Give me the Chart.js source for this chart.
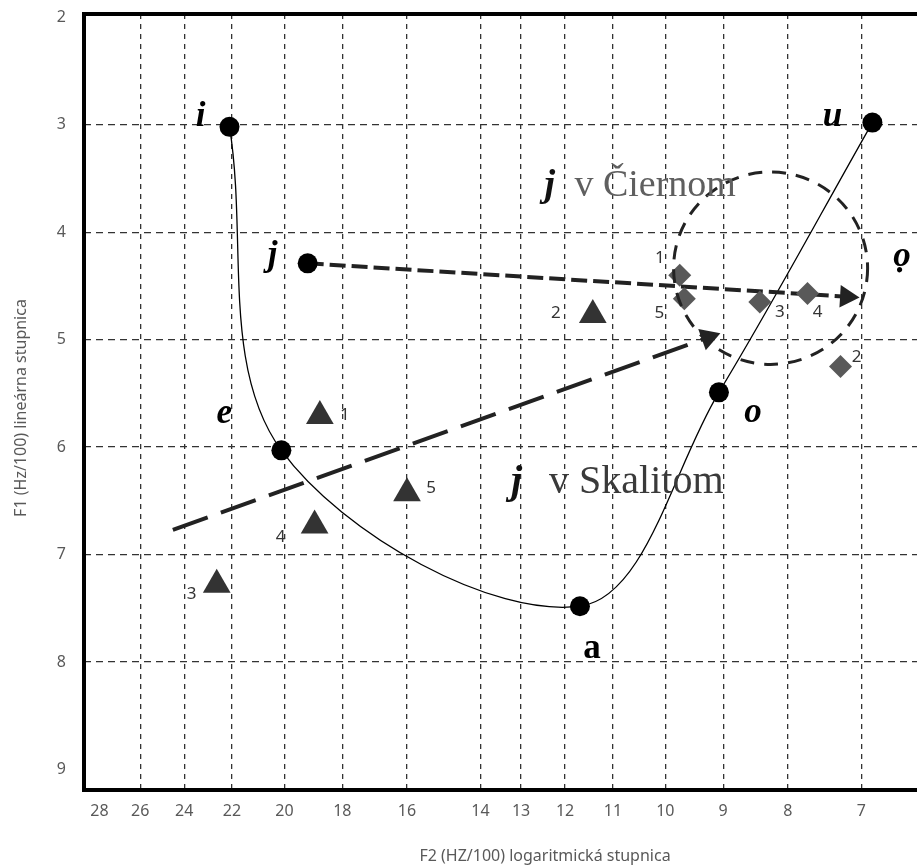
<!DOCTYPE html>
<html>
<head>
<meta charset="utf-8">
<script src="https://cdn.jsdelivr.net/npm/chart.js@4.4.1/dist/chart.umd.min.js"></script>
<style>
  html, body { margin: 0; padding: 0; background: #fff; overflow: hidden; }
</style>
</head>
<body>
<canvas id="formantChart" width="957" height="868"></canvas>
<script>
// axes: F2 (Hz/100, log) and F1 (Hz/100, linear)
const f2Ticks = [28, 26, 24, 22, 20, 18, 16, 14, 13, 12, 11, 10, 9, 8, 7, 6];
const f1Ticks = [2, 3, 4, 5, 6, 7, 8, 9];

// reference vowels (black dots)
const vowelNames = ['i', 'j', 'e', 'a', 'o', 'u'];
const vowelF2 = [22.1, 19.17, 20.11, 11.68, 9.07, 6.86];
const vowelF1 = [3.02, 4.29, 6.03, 7.48, 5.49, 2.98];

// vowel contour i - e - a - o - u
const contourF2 = [22.1, 20.11, 11.68, 9.07, 6.86];
const contourF1 = [3.02, 6.03, 7.48, 5.49, 2.98];

// j in Skalité (triangles)
const skalitomIds = ['1', '2', '3', '4', '5'];
const skalitomF2 = [18.75, 11.41, 22.62, 18.93, 16.0];
const skalitomF1 = [5.71, 4.77, 7.28, 6.73, 6.43];

// j in Čierne (diamonds)
const ciernomIds = ['1', '2', '3', '4', '5'];
const ciernomF2 = [9.74, 7.27, 8.42, 7.72, 9.66];
const ciernomF1 = [4.40, 5.25, 4.65, 4.57, 4.62];

// arrows, start -> end
const ciernomArrowF2 = [19.17, 7.19];
const ciernomArrowF1 = [4.29, 4.60];
const skalitomArrowF2 = [24.5, 9.25];
const skalitomArrowF1 = [6.77, 4.98];

// dashed ellipse round the Čierne group (F2 span, F1 span)
const ellipseF2 = [9.85, 6.92];
const ellipseF1 = [3.44, 5.23];

// captions placed in data units
const captions = [
  { j: 'j', rest: 'v Čiernom', f2: 12.46, f1: 3.66, size: 38, gap: 30, color: '#5f5f5f' },
  { j: 'j', rest: 'v Skalitom', f2: 13.24, f1: 6.43, size: 40, gap: 38, color: '#3a3a3a' }
];
const closedO = { text: 'ọ', f2: 6.5, f1: 4.31 };

// label offsets (px) - styling only
const vowelLabelStyle = {
  i: { dx: -29, dy: -1, italic: true },
  j: { dx: -35, dy: 2, italic: true },
  e: { dx: -57, dy: -27, italic: true },
  a: { dx: 12, dy: 52, italic: false },
  o: { dx: 34, dy: 30, italic: true },
  u: { dx: -40, dy: 3, italic: true }
};
const skalitomLabelOffsets = [[25, -1], [-37, -2], [-25, 9], [-34, 12], [24, -5]];
const ciernomLabelOffsets = [[-20, -17], [16, -9], [20, 10], [10, 19], [-25, 14]];

function pts(xs, ys) {
  return xs.map((x, k) => ({ x: x, y: ys[k] }));
}

const serif = '"Liberation Serif", "DejaVu Serif", serif';
const sans = '"Noto Sans", "Open Sans", sans-serif';

const annotations = {
  id: 'annotations',
  afterDatasetsDraw(chart) {
    const ctx = chart.ctx;
    const xs = chart.scales.x, ys = chart.scales.y;

    // dashed ellipse
    const x1 = xs.getPixelForValue(ellipseF2[0]), x2 = xs.getPixelForValue(ellipseF2[1]);
    const y1 = ys.getPixelForValue(ellipseF1[0]), y2 = ys.getPixelForValue(ellipseF1[1]);
    ctx.save();
    ctx.strokeStyle = '#222';
    ctx.lineWidth = 3;
    ctx.setLineDash([14, 10]);
    ctx.beginPath();
    ctx.ellipse((x1 + x2) / 2, (y1 + y2) / 2, Math.abs(x2 - x1) / 2, Math.abs(y2 - y1) / 2, 0, 0, Math.PI * 2);
    ctx.stroke();
    ctx.restore();

    ctx.save();
    ctx.textBaseline = 'alphabetic';
    ctx.textAlign = 'center';
    // vowel letters
    vowelNames.forEach((name, k) => {
      const st = vowelLabelStyle[name];
      const px = xs.getPixelForValue(vowelF2[k]);
      const py = ys.getPixelForValue(vowelF1[k]);
      ctx.fillStyle = '#000';
      ctx.font = (st.italic ? 'italic ' : '') + 'bold 35px ' + serif;
      ctx.fillText(name, px + st.dx, py + st.dy);
    });
    ctx.font = 'italic bold 35px ' + serif;
    ctx.fillText(closedO.text, xs.getPixelForValue(closedO.f2), ys.getPixelForValue(closedO.f1));

    // point numbers
    ctx.textBaseline = 'middle';
    ctx.font = '17px ' + sans;
    ctx.fillStyle = '#333';
    skalitomIds.forEach((id, k) => {
      const px = xs.getPixelForValue(skalitomF2[k]);
      const py = ys.getPixelForValue(skalitomF1[k]);
      ctx.fillText(id, px + skalitomLabelOffsets[k][0], py + skalitomLabelOffsets[k][1]);
    });
    ciernomIds.forEach((id, k) => {
      const px = xs.getPixelForValue(ciernomF2[k]);
      const py = ys.getPixelForValue(ciernomF1[k]);
      ctx.fillText(id, px + ciernomLabelOffsets[k][0], py + ciernomLabelOffsets[k][1]);
    });

    // captions
    ctx.textBaseline = 'alphabetic';
    ctx.textAlign = 'left';
    captions.forEach(c => {
      const px = xs.getPixelForValue(c.f2);
      const py = ys.getPixelForValue(c.f1);
      ctx.fillStyle = '#111';
      ctx.font = 'italic bold ' + c.size + 'px ' + serif;
      ctx.fillText(c.j, px, py);
      ctx.fillStyle = c.color;
      ctx.font = c.size + 'px ' + serif;
      ctx.fillText(c.rest, px + c.gap, py);
    });
    ctx.restore();
  },
  afterDraw(chart) {
    const ctx = chart.ctx;
    const a = chart.chartArea;
    ctx.save();
    // heavy frame
    ctx.strokeStyle = '#000';
    ctx.lineWidth = 4;
    ctx.strokeRect(a.left, a.top, a.right - a.left, a.bottom - a.top);
    // axis titles
    ctx.fillStyle = '#595959';
    ctx.font = '16px ' + sans;
    ctx.textAlign = 'center';
    ctx.textBaseline = 'middle';
    ctx.fillText('F2 (HZ/100) logaritmická stupnica', 545, 856);
    ctx.translate(21, 408);
    ctx.rotate(-Math.PI / 2);
    ctx.fillText('F1 (Hz/100) lineárna stupnica', 0, 0);
    ctx.restore();
  }
};

const hidden = 'rgba(0,0,0,0)';

new Chart(document.getElementById('formantChart'), {
  type: 'scatter',
  data: {
    datasets: [
      {
        label: 'vowels',
        data: pts(vowelF2, vowelF1),
        pointStyle: 'circle',
        pointRadius: 10,
        backgroundColor: '#000',
        borderColor: '#000',
        pointBorderWidth: 0
      },
      {
        label: 'j Čierne',
        data: pts(ciernomF2, ciernomF1),
        pointStyle: 'rectRot',
        pointRadius: 11.5,
        backgroundColor: '#595959',
        pointBorderWidth: 0
      },
      {
        label: 'j Skalité',
        data: pts(skalitomF2, skalitomF1),
        pointStyle: 'triangle',
        pointRadius: 16,
        backgroundColor: '#333',
        pointBorderWidth: 0
      },
      {
        label: 'arrow Čierne',
        data: pts(ciernomArrowF2, ciernomArrowF1),
        showLine: true,
        borderColor: '#222',
        borderWidth: 4,
        borderDash: [16, 6],
        pointStyle: 'triangle',
        pointRadius: [0, 13],
        pointRotation: [0, 93.5],
        backgroundColor: '#222',
        pointBorderWidth: 0
      },
      {
        label: 'arrow Skalité',
        data: pts(skalitomArrowF2, skalitomArrowF1),
        showLine: true,
        borderColor: '#222',
        borderWidth: 4,
        borderDash: [37, 14],
        pointStyle: 'triangle',
        pointRadius: [0, 13],
        pointRotation: [0, 70.5],
        backgroundColor: '#222',
        pointBorderWidth: 0
      },
      {
        label: 'contour',
        data: pts(contourF2, contourF1),
        showLine: true,
        borderColor: '#000',
        borderWidth: 1.3,
        tension: 0.35,
        pointRadius: 0
      }
    ]
  },
  options: {
    responsive: false,
    animation: false,
    events: [],
    layout: { autoPadding: false, padding: { top: 14, right: 11, bottom: 0, left: 0 } },
    plugins: {
      legend: { display: false },
      tooltip: { enabled: false }
    },
    scales: {
      x: {
        type: 'logarithmic',
        reverse: true,
        min: 6,
        max: 28.8,
        afterBuildTicks: scale => { scale.ticks = f2Ticks.map(v => ({ value: v })); },
        afterFit: scale => {
          scale.height = 78;
          scale.paddingLeft = 0;
          scale.paddingRight = 0;
        },
        grid: {
          drawTicks: false,
          lineWidth: 1.3,
          color: c => (c.tick && (c.tick.value === 28 || c.tick.value === 6)) ? hidden : '#333'
        },
        border: { display: false, dash: [5, 5] },
        ticks: {
          autoSkip: false,
          maxRotation: 0,
          padding: 12,
          color: '#595959',
          font: { family: sans, size: 16 },
          callback: v => String(v)
        }
      },
      y: {
        type: 'linear',
        reverse: true,
        min: 1.97,
        max: 9.19,
        afterBuildTicks: scale => { scale.ticks = f1Ticks.map(v => ({ value: v })); },
        afterFit: scale => {
          scale.width = 84;
          scale.paddingTop = 0;
          scale.paddingBottom = 0;
        },
        grid: {
          drawTicks: false,
          lineWidth: 1.3,
          color: c => (c.tick && (c.tick.value === 2 || c.tick.value === 9)) ? hidden : '#333'
        },
        border: { display: false, dash: [7, 5] },
        ticks: {
          padding: 18,
          color: '#595959',
          font: { family: sans, size: 16 },
          callback: v => String(v)
        }
      }
    }
  },
  plugins: [annotations]
});
</script>
</body>
</html>
